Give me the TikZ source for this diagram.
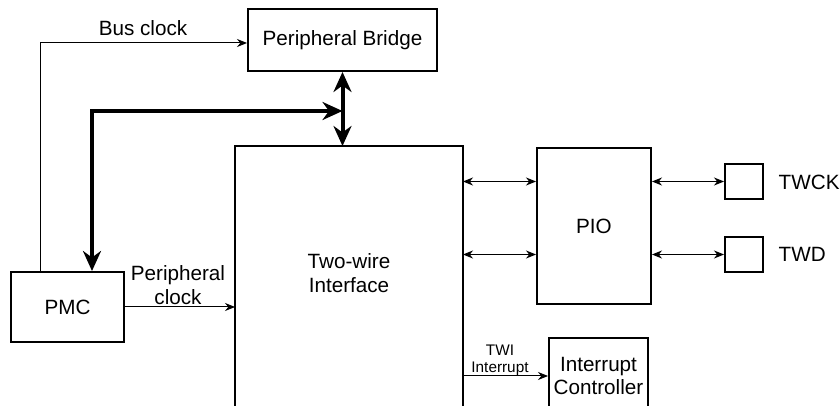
\documentclass[tikz,border=0pt]{standalone}
\usepackage{fontspec}
\setmainfont{Liberation Sans}
\usetikzlibrary{arrows.meta}
\usetikzlibrary{calc}

\begin{document}
\begin{tikzpicture}[x=0.75pt,y=-0.75pt,font=\fontsize{15.5}{17.5}\selectfont]
	    \tikzstyle{block}=[draw,line width=1.5pt,inner sep=0pt,align=center]
	    \tikzstyle{pad}=[draw,line width=1.5pt,minimum width=28.5pt,minimum height=26.25pt]
	    \tikzstyle{sig}=[line width=0.75pt,-{Stealth[length=7.5pt,width=6pt]}]
	    \tikzstyle{bisig}=[line width=0.75pt,{Stealth[length=7.5pt,width=6pt]}-{Stealth[length=7.5pt,width=6pt]}]
	    \tikzstyle{bus}=[line width=3pt,{Stealth[length=15pt,width=13.5pt]}-{Stealth[length=15pt,width=13.5pt]}]
	    \tikzstyle{lbl}=[align=center,inner sep=1pt]
 
	    \clip (0,0) rectangle (840,406);
 
	    \node[block,minimum width=141.75pt,minimum height=46.5pt](bridge) at (342.5,40){Peripheral Bridge};
	    \node[block,draw=none,minimum width=169.5pt,minimum height=189pt](twi) at (349,273){Two-wire\\Interface};
	    \node[block,minimum width=85.5pt,minimum height=117pt](pio) at (594,226){PIO};
	    \node[block,minimum width=84.75pt,minimum height=52.5pt](pmc) at (67.5,307){PMC};
	    \node[block,minimum width=74.25pt,minimum height=57pt](intc) at (598.5,376){Interrupt\\Controller};
 
	    \node[pad](twck) at (744,181.5){};
	    \node[pad](twd) at (744,254.5){};
	    \node[anchor=west](twcklbl) at (774,182){TWCK};
	    \node[anchor=west](twdlbl) at (774,254){TWD};
 
	    % interface box runs off the bottom
	    \draw[line width=1.5pt] ([yshift=-10pt]twi.south west) -- (twi.north west) -- (twi.north east) -- ([yshift=-10pt]twi.south east);
 
	    \coordinate (joint) at (342.5,111);
	    \coordinate (corner) at (92,111);
 
	    % clocks
	    \draw[sig] ($(pmc.north west)+(30,0)$) |- ([yshift=-2.25pt]bridge.west);
	    \node[lbl](busclk) at (143,28){Bus clock};
	    \draw[sig] (pmc.east) -- (twi.west |- pmc.east);
	    \node[lbl](perclk) at (178,285){Peripheral\\clock};
 
	    % system bus
	    \draw[bus] (joint) -- (corner) -- (corner |- pmc.north);
	    \draw[bus] (bridge.south) -- (bridge.south |- twi.north);
 
	    % pins
	    \draw[bisig] (twi.east |- twck) -- (pio.west |- twck);
	    \draw[bisig] (twi.east |- twd) -- (pio.west |- twd);
	    \draw[bisig] (pio.east |- twck) -- (twck.west);
	    \draw[bisig] (pio.east |- twd) -- (twd.west);
 
	    % interrupt
	    \draw[sig] (twi.east |- intc) -- (intc.west);
	    \node[lbl,font=\fontsize{11.5}{12.75}\selectfont](twiirq) at (500,360){TWI\\Interrupt};
	\end{tikzpicture}
\end{document}
